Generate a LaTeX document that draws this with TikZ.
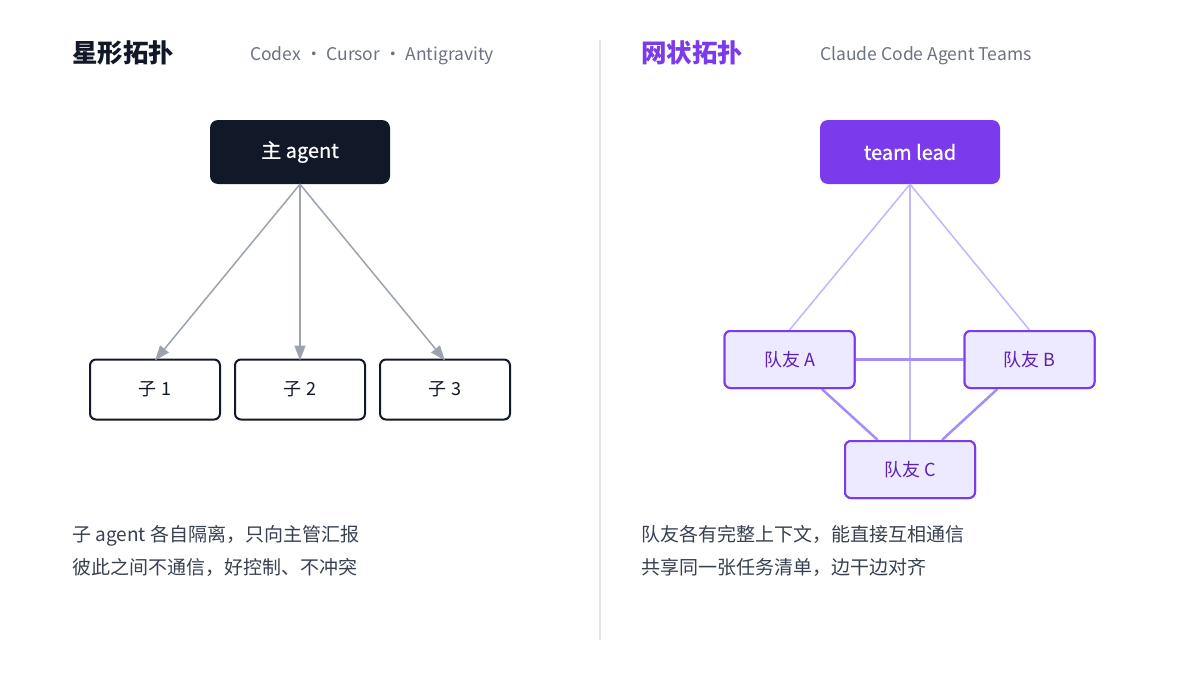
\documentclass[tikz,border=0pt]{standalone}
\usepackage{fontspec}
\setmainfont{Noto Sans CJK SC}
\newfontfamily\boxfont{Noto Sans CJK SC}[FakeBold=0.8]
\usetikzlibrary{arrows.meta,positioning}
\definecolor{ink}{HTML}{111827}
\definecolor{arrowgray}{HTML}{9CA3AF}
\definecolor{taggray}{HTML}{6B7280}
\definecolor{notegray}{HTML}{374151}
\definecolor{rulegray}{HTML}{E5E7EB}
\definecolor{purple}{HTML}{7C3AED}
\definecolor{matefill}{HTML}{EDE9FE}
\definecolor{matetext}{HTML}{5B21B6}
\definecolor{leadline}{HTML}{C4B5FD}
\definecolor{meshline}{HTML}{A78BFA}
\tikzset{
  basic/.style   = {rectangle, inner sep=0pt, align=center},
  root/.style    = {basic, rounded corners=8pt, fill=ink, text=white,
                    minimum width=180pt, minimum height=64pt,
                    font=\boxfont\fontsize{20}{24}\selectfont},
  child/.style   = {basic, rounded corners=6pt, draw=ink, line width=2pt,
                    fill=white, text=ink, minimum width=130pt,
                    minimum height=60pt, font=\fontsize{18}{22}\selectfont},
  leadbox/.style = {basic, rounded corners=8pt, fill=purple, text=white,
                    minimum width=180pt, minimum height=64pt,
                    font=\boxfont\fontsize{20}{24}\selectfont},
  matebox/.style = {basic, rounded corners=6pt, draw=purple, line width=2pt,
                    fill=matefill, text=matetext, minimum width=130pt,
                    minimum height=57pt, font=\fontsize{18}{22}\selectfont},
  heading/.style = {anchor=west, inner sep=0pt, font=\fontsize{25.5}{28}\bfseries},
  tagline/.style = {anchor=west, inner sep=0pt, text=taggray,
                    font=\fontsize{17.5}{20}\selectfont},
  note/.style    = {anchor=north west, inner sep=0pt, align=left, text=notegray,
                    font=\fontsize{19}{33}\selectfont}
}

\begin{document}
\begin{tikzpicture}[x=1pt, y=-1pt]
\useasboundingbox[fill=white] (0,0) rectangle (1200,680);

% divider
\draw[rulegray, line width=1.5pt] (600,40) -- (600,640);

% left half: star
\node[heading, text=ink] (t1) at (72,53) {星形拓扑};
\node[tagline] (g1) at (250,56) {Codex · Cursor · Antigravity};

\node[root] (main) at (300,152) {主 agent};
\node[child] (s1) at (155,389.5) {子 1};
\node[child, right=13pt of s1] (s2) {子 2};
\node[child, right=13pt of s2] (s3) {子 3};

\foreach \value in {1,...,3}
  \draw[arrowgray, line width=1.5pt, -{Triangle[length=15pt,width=11pt]}]
    (main.south) -- ([yshift=-2pt]s\value.north);

\node[note] (n1) at (72,525) {子 agent 各自隔离，只向主管汇报\\彼此之间不通信，好控制、不冲突};

% right half: mesh
\node[heading, text=purple] (t2) at (641,53) {网状拓扑};
\node[tagline] (g2) at (820,56) {Claude Code Agent Teams};

\node[leadbox] (lead) at (910,152) {team lead};
\node[matebox] (mA) at (789.5,359.5) {队友 A};
\node[matebox, right=108pt of mA] (mB) {队友 B};
\node[matebox] (mC) at (910,469.5) {队友 C};

\foreach \value in {A,B,C}
  \draw[leadline, line width=1.5pt] (lead.south) -- (m\value.north);
\draw[meshline, line width=2.5pt] (mA) -- (mB);
\draw[meshline, line width=2.5pt] (mA) -- (mC);
\draw[meshline, line width=2.5pt] (mB) -- (mC);
\foreach \value in {A,B,C}
  \node[matebox] at (m\value) {队友 \value};

\node[note] (n2) at (641,525) {队友各有完整上下文，能直接互相通信\\共享同一张任务清单，边干边对齐};
\end{tikzpicture}
\end{document}
